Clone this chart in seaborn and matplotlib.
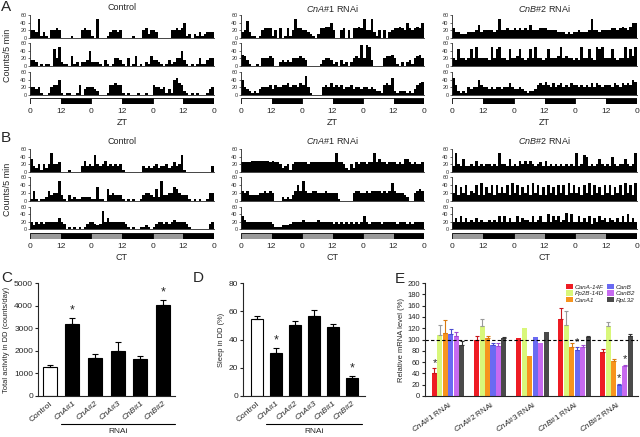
import numpy as np
import pandas as pd
import matplotlib
matplotlib.use("Agg")
import matplotlib.pyplot as plt
import matplotlib.transforms as mtransforms
import seaborn as sns

# locomotor traces: one char per hour (base 36), value * 5 = counts/5 min
act_a_control = [
    "443a13104454 000010004544 10a000134434 000010004524 430000044545 812021312333",
    "33201011094a 211051202238 222103101443 104015010215 332101312448 310101411344",
    "443410014558 101100150344 432000155655 101000100100 544341318965 210101000134",
]
act_a_cna1 = [
    "349311014555 140501514a55 443210255668 400450405565 a44a31404034 556548545658",
    "653100104445 400232324445 430000013443 12031202454b 4ba300004556 410202314564",
    "843212134445 354455645546 5a4100004546 454534453443 443432215659 212221213567",
]
act_a_cnb2 = [
    "533222333473 444434a44544 545454744455 544443332323 343334a44344 445545654688",
    "439443494a44 443a49a44394 45943494a443 494445a45443 43a44943a9a4 4494344a495a",
    "952121434485 443434434464 334321223565 754645645465 545454646545 554654656587",
]
act_b_control = [
    "73241424a445 000100003634 394346343434 100000003232 342334235349 100000000003",
    "15101125344a 310312112222 117110634333 101010013443 262a33447643 331010100144",
    "424343444446 430101010134 4323a4644444 431010011210 134434345444 431000000034",
]
act_b_cna1 = [
    "555566666665 655423414555 554555555555 5a5542142545 5455a5755455 545477545445",
    "545333344545 400021213585 a54455444544 441000004554 454555545459 544432004565",
    "754444444444 311122234444 544444544444 343434343434 743444434444 434443434444",
]
act_b_cnb2 = [
    "3a4373343634 344343a44373 436464643453 634343434343 a34983434743 43843447434a",
    "483748354839 374838474839 483748394837 384738483948 473849384738 483748394839",
    "464746454645 445454747464 474655474574 484757459484 474647364756 465464748464",
]
ld_a = ["L", "D", "L", "D", "L", "D"]
ld_b = ["S", "D", "S", "D", "S", "D"]
time_labels = ["0", "12", "0", "12", "0", "12", "0"]
col_titles = ["Control", r"$\it{CnA}$#1 RNAi", r"$\it{CnB}$#2 RNAi"]

# panel C / D
lines_cd = ["Control", "CnA#1", "CnA#2", "CnA#3", "CnB#1", "CnB#2"]
activity = [1265, 3190, 1690, 2005, 1635, 4030]
activity_err = [100, 250, 150, 370, 145, 200]
sleep = [54.5, 30.6, 50.0, 56.5, 48.8, 12.5]
sleep_err = [2.3, 3.6, 3.0, 4.6, 2.4, 1.9]
star_cd = [0, 1, 0, 0, 0, 1]

# panel E
lines_e = ["CnA#1", "CnA#2", "CnA#3", "CnB#1", "CnB#2"]
genes = ["CanA-14F", "Pp2B-14D", "CanA1", "CanB", "CanB2", "RpL32"]
canA14F = [41, 100, 102, 136, 77]
pp2b14D = [108, 124, 120, 126, 124]
canA1 = [112, 103, 71, 86, 62]
canB = [110, 90, 104, 82, 20]
canB2 = [106, 89, 93, 86, 53]
rpl32 = [90, 103, 113, 104, 106]
canA14F_err = [8, 6, 0, 19, 7]
pp2b14D_err = [18, 12, 0, 24, 7]
canA1_err = [23, 4, 0, 8, 4]
canB_err = [8, 4, 0, 4, 1.5]
canB2_err = [7, 5, 0, 4, 2]
rpl32_err = [8, 2, 0, 2, 4]
star_e = {"CanA-14F": [1, 0, 0, 0, 0], "CanB": [0, 0, 0, 1, 1], "CanB2": [0, 0, 0, 0, 1]}

gene_colors = ["#ee1c24", "#d9f77a", "#f7941d", "#6a6af2", "#c76af0", "#4a4a4a"]
err_colors = ["#c8141a", "#9a9a9a", "#d87a10", "#4a4ad0", "#a04ad0", "#333333"]

sns.set_style("ticks")
plt.rcParams["font.family"] = ["Liberation Sans", "DejaVu Sans"]
plt.rcParams["mathtext.fontset"] = "custom"
plt.rcParams["mathtext.rm"] = "Liberation Sans"
plt.rcParams["mathtext.it"] = "Liberation Sans:italic"

W, H = 640, 437
fig = plt.figure(figsize=(6.4, 4.37), dpi=100)


def px_axes(x0, y0, x1, y1):
    return fig.add_axes([x0 / W, 1 - y1 / H, (x1 - x0) / W, (y1 - y0) / H])


def decode(s):
    v = [int(c, 36) * 5 for c in s.replace(" ", "")][:72]
    return v + [0] * (72 - len(v))


def draw_trace(ax, s):
    ax.bar(np.arange(72) + 0.5, decode(s), width=1.0, color="black", linewidth=0)
    ax.set_xlim(0, 72)
    ax.set_ylim(0, 60)
    ax.set_xticks([])
    ax.set_yticks([0, 20, 40, 60])
    ax.tick_params(axis="y", labelsize=4, length=1.5, width=0.5, pad=1, colors="#333333")
    sns.despine(ax=ax)
    for sp in ["left", "bottom"]:
        ax.spines[sp].set_linewidth(0.6)


def draw_ld(ax, pattern, label):
    cmap = {"L": "white", "D": "black", "S": "#9a9a9a"}
    ax.bar([12 * i + 6 for i in range(len(pattern))], [1] * len(pattern), width=12,
           color=[cmap[p] for p in pattern], edgecolor="black", linewidth=0.6)
    ax.set_xlim(0, 72)
    ax.set_ylim(0, 1)
    ax.set_yticks([])
    ax.set_xticks(range(0, 73, 12))
    ax.set_xticklabels(time_labels)
    ax.tick_params(axis="x", length=0, labelsize=6, pad=3)
    for sp in ax.spines.values():
        sp.set_visible(False)
    ax.set_xlabel(label, fontsize=6.5, labelpad=2)


cols_x = [(30, 214), (241, 424), (452, 637)]
rows_a = [(15, 38), (43, 66), (72, 95)]
rows_b = [(149, 172), (177, 201), (207, 229)]
data_a = [act_a_control, act_a_cna1, act_a_cnb2]
data_b = [act_b_control, act_b_cna1, act_b_cnb2]

for c, (x0, x1) in enumerate(cols_x):
    for r, (y0, y1) in enumerate(rows_a):
        draw_trace(px_axes(x0, y0, x1, y1), data_a[c][r])
    draw_ld(px_axes(x0, 98, x1, 104), ld_a, "ZT")
    fig.text((x0 + x1) / 2 / W, 1 - 8 / H, col_titles[c], ha="center", va="center", fontsize=6.5)
    for r, (y0, y1) in enumerate(rows_b):
        draw_trace(px_axes(x0, y0, x1, y1), data_b[c][r])
    draw_ld(px_axes(x0, 233, x1, 239), ld_b, "CT")
    fig.text((x0 + x1) / 2 / W, 1 - 141 / H, col_titles[c], ha="center", va="center", fontsize=6.5)

fig.text(8 / W, 1 - 55 / H, "Counts/5 min", rotation=90, ha="center", va="center", fontsize=6.5)
fig.text(8 / W, 1 - 189 / H, "Counts/5 min", rotation=90, ha="center", va="center", fontsize=6.5)

for letter, x, y in [("A", 1, 0), ("B", 1, 131), ("C", 1, 271), ("D", 193, 271), ("E", 395, 272)]:
    fig.text(x / W, 1 - y / H, letter, ha="left", va="top", fontsize=11)


def bar_panel(ax, values, errs, ymax, step, ylabel, rnai_start):
    df = pd.DataFrame({"line": lines_cd, "value": values})
    sns.barplot(data=df, x="line", y="value", hue="line", palette=["white"] + ["black"] * 5,
                edgecolor="black", linewidth=0.8, width=0.62, saturation=1, legend=False, ax=ax)
    for p, e, s in zip(ax.patches, errs, star_cd):
        xc = p.get_x() + p.get_width() / 2
        top = p.get_height()
        ax.errorbar(xc, top, yerr=[[0], [e]], fmt="none", ecolor="black", elinewidth=0.8,
                    capsize=2.2, capthick=0.8)
        if s:
            ax.text(xc, top + e + ymax * 0.015, "*", ha="center", va="bottom", fontsize=9)
    ax.set_xlim(-0.52, 5.53)
    ax.set_ylim(0, ymax)
    ax.set_yticks(np.arange(0, ymax + 1, step))
    ax.set_xlabel("")
    ax.set_ylabel(ylabel, fontsize=5.4, labelpad=3)
    ax.set_xticks(range(6))
    ax.set_xticklabels(lines_cd, rotation=40, ha="right", rotation_mode="anchor")
    for t in ax.get_xticklabels()[1:]:
        t.set_fontstyle("italic")
    ax.tick_params(axis="x", length=0, labelsize=6, pad=3)
    ax.tick_params(axis="y", length=2, width=0.8, labelsize=6, pad=1.5)
    sns.despine(ax=ax)
    for sp in ["left", "bottom"]:
        ax.spines[sp].set_linewidth(0.8)
    tr = mtransforms.blended_transform_factory(ax.transData, ax.transAxes)
    ax.plot([rnai_start, 5.53], [-0.245, -0.245], color="black", lw=0.8, transform=tr, clip_on=False)
    ax.text((rnai_start + 5.53) / 2, -0.315, "RNAi", transform=tr, ha="center", va="center", fontsize=6)


ax_c = px_axes(38, 283, 175, 396)
bar_panel(ax_c, activity, activity_err, 5000, 1000, "Total activity in DD (counts/day)", 0.5)
ax_d = px_axes(243, 283, 365, 396)
bar_panel(ax_d, sleep, sleep_err, 80, 20, "Sleep in DD (%)", 0.5)
ax_d.set_xlim(-0.72, 5.7)

# panel E
levels = [canA14F, pp2b14D, canA1, canB, canB2, rpl32]
errors = [canA14F_err, pp2b14D_err, canA1_err, canB_err, canB2_err, rpl32_err]
df_e = pd.DataFrame({
    "group": [g for _ in genes for g in lines_e],
    "gene": [g for g in genes for _ in lines_e],
    "level": [v for lv in levels for v in lv],
})
ax_e = px_axes(425, 283, 638, 396)
sns.barplot(data=df_e, x="group", y="level", hue="gene", hue_order=genes, palette=gene_colors,
            width=0.78, gap=0.08, saturation=1, linewidth=0, ax=ax_e)
for gi, (gene, cont) in enumerate(zip(genes, ax_e.containers)):
    stars = star_e.get(gene, [0] * 5)
    for j, p in enumerate(cont.patches):
        xc = p.get_x() + p.get_width() / 2
        top = p.get_height()
        e = errors[gi][j]
        if e > 0:
            ax_e.errorbar(xc, top, yerr=[[0], [e]], fmt="none", ecolor=err_colors[gi],
                          elinewidth=0.8, capsize=1.3, capthick=0.8)
        if stars[j]:
            ax_e.text(xc, top + e + 1, "*", ha="center", va="bottom", fontsize=8)
ax_e.axhline(100, color="black", ls=(0, (3, 2)), lw=0.8)
ax_e.set_xlim(-0.55, 4.51)
ax_e.set_ylim(0, 200)
ax_e.set_yticks(range(0, 201, 20))
ax_e.set_xlabel("")
ax_e.set_ylabel("Relative mRNA level (%)", fontsize=5.5, labelpad=2)
ax_e.set_xticks(range(5))
ax_e.set_xticklabels([r"$\it{%s}$ RNAi" % g.replace("#", r"\#") for g in lines_e],
                     rotation=35, ha="right", rotation_mode="anchor")
ax_e.tick_params(axis="x", length=0, labelsize=5.8, pad=3)
ax_e.tick_params(axis="y", length=2, width=0.8, labelsize=5.5, pad=1.5)
sns.despine(ax=ax_e)
for sp in ["left", "bottom"]:
    ax_e.spines[sp].set_linewidth(0.8)
ax_e.legend(ncol=2, loc="upper right", frameon=False, prop={"size": 4.6, "style": "italic"},
            handlelength=1.0, handleheight=0.9, handletextpad=0.3, columnspacing=0.5,
            labelspacing=0.1, borderaxespad=0.1, bbox_to_anchor=(1.0, 1.02))

fig.savefig("out.png", dpi=100)
